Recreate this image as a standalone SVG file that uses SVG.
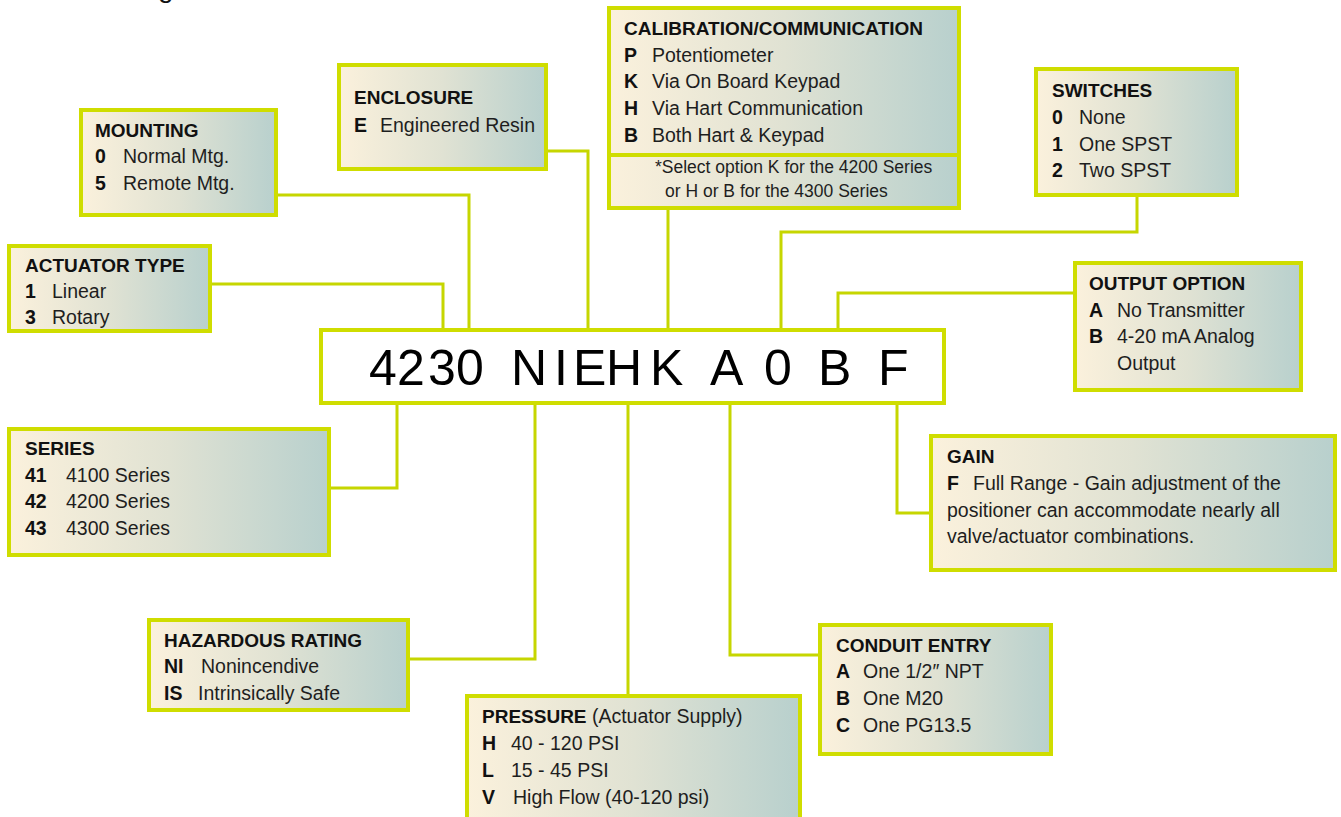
<svg xmlns="http://www.w3.org/2000/svg" width="1341" height="817" viewBox="0 0 1341 817">
<defs>
<linearGradient id="bg" x1="0" y1="0" x2="1" y2="0">
<stop offset="0" stop-color="#fbf1dc"/>
<stop offset="0.5" stop-color="#e0e2d3"/>
<stop offset="1" stop-color="#b8d0cd"/>
</linearGradient>
<style>
.box{fill:url(#bg);stroke:#cfdd00;stroke-width:4}
.nb{fill:#ffffff;stroke:#cfdd00;stroke-width:4}
.t{font-family:"Liberation Sans",Arial,sans-serif;font-size:19.5px;fill:#1e1e1e}
.h{font-weight:bold;font-size:19px;fill:#111}
.c{font-weight:bold;fill:#111}
.n{font-family:"Liberation Sans",Arial,sans-serif;font-size:17.5px;fill:#1e1e1e}
.big{font-family:"Liberation Sans",Arial,sans-serif;font-size:50px;fill:#000}
.conn path{fill:none;stroke:#c6d600;stroke-width:3}
</style>
</defs>
<rect width="1341" height="817" fill="#ffffff"/>
<text x="158" y="-3" style="font-family:'Liberation Sans',Arial,sans-serif;font-size:28px;fill:#111">g</text>

<g class="conn" id="connectors">
<path d="M212 284H443V342M430 342H453"/>
<path d="M278 195H469V342M459 342H482"/>
<path d="M548 151H588V342M573 342H608"/>
<path d="M668 210V342M660 342H687"/>
<path d="M1137 197V232H781V341M766 341H795"/>
<path d="M1073 293H838V339M824 339H854"/>
<path d="M331 488H397V393M370 393H421"/>
<path d="M410 659H535V393M512 393H559"/>
<path d="M628 694V391M615 391H645"/>
<path d="M818 655H730V391M715 391H749"/>
<path d="M929 513H897V395M883 395H912"/>
</g>

<g id="code">
<rect class="nb" x="321" y="330" width="623" height="73"/>
<text class="big" y="385"><tspan x="369">4</tspan><tspan x="397">2</tspan><tspan x="428">3</tspan><tspan x="456">0</tspan><tspan x="511">N</tspan><tspan x="554">I</tspan><tspan x="573">E</tspan><tspan x="606">H</tspan><tspan x="650">K</tspan><tspan x="710">A</tspan><tspan x="764">0</tspan><tspan x="818">B</tspan><tspan x="878">F</tspan></text>
</g>

<g id="mounting">
<rect class="box" x="81" y="110" width="195" height="105"/>
<text class="t h" x="95" y="137">MOUNTING</text>
<text class="t" y="163"><tspan class="c" x="95">0</tspan><tspan x="123">Normal Mtg.</tspan></text>
<text class="t" y="190"><tspan class="c" x="95">5</tspan><tspan x="123">Remote Mtg.</tspan></text>
</g>

<g id="actuator-type">
<rect class="box" x="9" y="246" width="201" height="85"/>
<text class="t h" x="25" y="272">ACTUATOR TYPE</text>
<text class="t" y="298"><tspan class="c" x="25">1</tspan><tspan x="52">Linear</tspan></text>
<text class="t" y="324"><tspan class="c" x="25">3</tspan><tspan x="52">Rotary</tspan></text>
</g>

<g id="enclosure">
<rect class="box" x="339" y="65" width="207" height="104"/>
<text class="t h" x="354" y="104">ENCLOSURE</text>
<text class="t" y="132"><tspan class="c" x="354">E</tspan><tspan x="380">Engineered Resin</tspan></text>
</g>

<g id="calibration">
<rect class="box" x="609" y="8" width="350" height="200"/>
<path d="M609 155H959" stroke="#cfdd00" stroke-width="4"/>
<text class="t h" x="624" y="35">CALIBRATION/COMMUNICATION</text>
<text class="t" y="62"><tspan class="c" x="624">P</tspan><tspan x="652">Potentiometer</tspan></text>
<text class="t" y="88"><tspan class="c" x="624">K</tspan><tspan x="652">Via On Board Keypad</tspan></text>
<text class="t" y="115"><tspan class="c" x="624">H</tspan><tspan x="652">Via Hart Communication</tspan></text>
<text class="t" y="142"><tspan class="c" x="624">B</tspan><tspan x="652">Both Hart &amp; Keypad</tspan></text>
<text class="n" x="655" y="173">*Select option K for the 4200 Series</text>
<text class="n" x="665" y="197">or H or B for the 4300 Series</text>
</g>

<g id="switches">
<rect class="box" x="1036" y="69" width="201" height="126"/>
<text class="t h" x="1052" y="97">SWITCHES</text>
<text class="t" y="124"><tspan class="c" x="1052">0</tspan><tspan x="1079">None</tspan></text>
<text class="t" y="151"><tspan class="c" x="1052">1</tspan><tspan x="1079">One SPST</tspan></text>
<text class="t" y="177"><tspan class="c" x="1052">2</tspan><tspan x="1079">Two SPST</tspan></text>
</g>

<g id="output-option">
<rect class="box" x="1075" y="263" width="226" height="127"/>
<text class="t h" x="1089" y="290">OUTPUT OPTION</text>
<text class="t" y="317"><tspan class="c" x="1089">A</tspan><tspan x="1117">No Transmitter</tspan></text>
<text class="t" y="343"><tspan class="c" x="1089">B</tspan><tspan x="1117">4-20 mA Analog</tspan></text>
<text class="t" x="1117" y="370">Output</text>
</g>

<g id="series">
<rect class="box" x="9" y="429" width="320" height="126"/>
<text class="t h" x="25" y="455">SERIES</text>
<text class="t" y="482"><tspan class="c" x="25">41</tspan><tspan x="66">4100 Series</tspan></text>
<text class="t" y="508"><tspan class="c" x="25">42</tspan><tspan x="66">4200 Series</tspan></text>
<text class="t" y="535"><tspan class="c" x="25">43</tspan><tspan x="66">4300 Series</tspan></text>
</g>

<g id="gain">
<rect class="box" x="931" y="436" width="404" height="134"/>
<text class="t h" x="947" y="463">GAIN</text>
<text class="t" y="490"><tspan class="c" x="947">F</tspan><tspan x="973">Full Range - Gain adjustment of the</tspan></text>
<text class="t" x="947" y="517">positioner can accommodate nearly all</text>
<text class="t" x="947" y="543">valve/actuator combinations.</text>
</g>

<g id="hazardous-rating">
<rect class="box" x="149" y="620" width="259" height="90"/>
<text class="t h" x="164" y="647">HAZARDOUS RATING</text>
<text class="t" y="673"><tspan class="c" x="164">NI</tspan><tspan x="201">Nonincendive</tspan></text>
<text class="t" y="700"><tspan class="c" x="164">IS</tspan><tspan x="198">Intrinsically Safe</tspan></text>
</g>

<g id="pressure">
<rect class="box" x="467" y="696" width="333" height="130"/>
<text class="t" x="482" y="723"><tspan class="h">PRESSURE</tspan> (Actuator Supply)</text>
<text class="t" y="750"><tspan class="c" x="482">H</tspan><tspan x="511">40 - 120 PSI</tspan></text>
<text class="t" y="777"><tspan class="c" x="482">L</tspan><tspan x="511">15 - 45 PSI</tspan></text>
<text class="t" y="804"><tspan class="c" x="482">V</tspan><tspan x="513">High Flow (40-120 psi)</tspan></text>
</g>

<g id="conduit-entry">
<rect class="box" x="820" y="625" width="231" height="129"/>
<text class="t h" x="836" y="652">CONDUIT ENTRY</text>
<text class="t" y="678"><tspan class="c" x="836">A</tspan><tspan x="863">One 1/2″ NPT</tspan></text>
<text class="t" y="705"><tspan class="c" x="836">B</tspan><tspan x="863">One M20</tspan></text>
<text class="t" y="732"><tspan class="c" x="836">C</tspan><tspan x="863">One PG13.5</tspan></text>
</g>
</svg>
